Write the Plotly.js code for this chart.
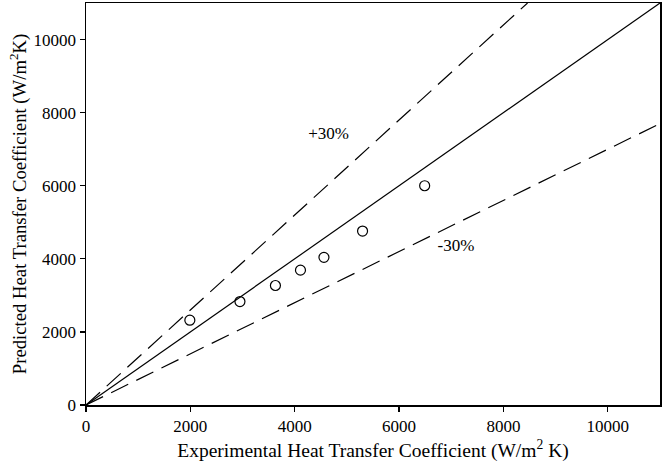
<!DOCTYPE html>
<html>
<head>
<meta charset="utf-8">
<script src="https://cdn.plot.ly/plotly-3.0.1.min.js"></script>
<style>html,body{margin:0;padding:0;background:#fff}#chart{width:668px;height:464px}</style>
</head>
<body>
<div id="chart"></div>
<script>
const expX = [1990, 2950, 3630, 4110, 4560, 5300, 6490];
const predY = [2320, 2830, 3270, 3690, 4040, 4760, 6000];
const lineX = [0, 11000];
const perfectY = [0, 11000];
const plusX = [0, 8462];
const plusY = [0, 11000];
const minusX = [0, 11000];
const minusY = [0, 7700];
const tickVals = [0, 2000, 4000, 6000, 8000, 10000];
const tickText = ["0", "2000", "4000", "6000", "8000", "10000"];
const labelText = ["+30%", "-30%"];
const labelX = [4650, 7090];
const labelY = [7400, 4330];

const fam = "Liberation Serif, Times New Roman, serif";
const f = s => ({family: fam, size: s, color: "#000"});
const traces = [
  {x: lineX, y: perfectY, mode: "lines", line: {color: "#000", width: 1.2}, hoverinfo: "skip"},
  {x: plusX, y: plusY, mode: "lines", line: {color: "#000", width: 1.2, dash: "19px,9px"}, hoverinfo: "skip"},
  {x: minusX, y: minusY, mode: "lines", line: {color: "#000", width: 1.2, dash: "19px,9px"}, hoverinfo: "skip"},
  {x: expX, y: predY, mode: "markers", marker: {symbol: "circle-open", size: 10, color: "#000", line: {width: 1.2, color: "#000"}}},
  {x: labelX, y: labelY, mode: "text", text: labelText, textfont: f(17), hoverinfo: "skip"}
];
const axisCommon = {
  range: [0, 11000], tickmode: "array", tickvals: tickVals, ticktext: tickText,
  ticks: "outside", ticklen: 5, tickwidth: 1.2, tickcolor: "#000",
  showline: true, linecolor: "#000", linewidth: 1.5, mirror: true,
  showgrid: false, zeroline: false, tickfont: f(17)
};
const layout = {
  width: 668, height: 464,
  margin: {l: 86, r: 8, t: 3, b: 59},
  showlegend: false,
  paper_bgcolor: "#fff", plot_bgcolor: "#fff",
  font: f(17),
  xaxis: Object.assign({}, axisCommon, {
    title: {text: "Experimental Heat Transfer Coefficient (W/m<sup>2</sup> K)", font: f(19.5), standoff: 8}
  }),
  yaxis: Object.assign({}, axisCommon, {
    title: {text: "Predicted Heat Transfer Coefficient (W/m<sup>2</sup>K)", font: f(18.7), standoff: 2}
  })
};
Plotly.newPlot("chart", traces, layout, {displayModeBar: false, staticPlot: true});
</script>
</body>
</html>
